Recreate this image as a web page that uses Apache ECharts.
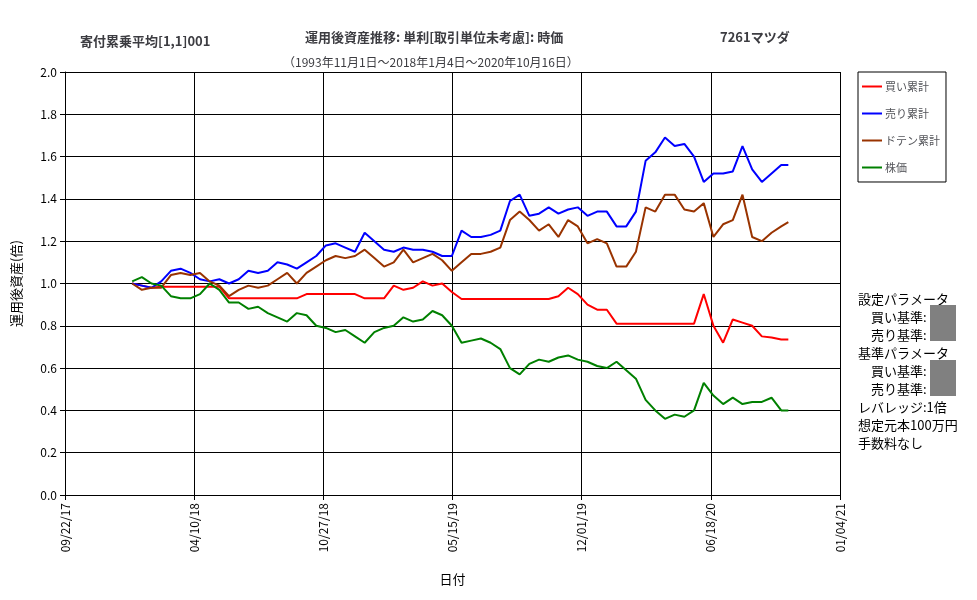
<!DOCTYPE html>
<html>
<head>
<meta charset="UTF-8">
<title>運用後資産推移</title>
<script src="https://cdn.jsdelivr.net/npm/echarts@6/dist/echarts.min.js"></script>
<style>body{margin:0;background:#fff}</style>
</head>
<body>
	<div id="main" style="width: 977px;height:600px;"></div>
	<script type="text/javascript">
	// x = days since 09/22/17 (axis origin); first sample 2018-01-04 = day 104, then every 15 days, last 2020-10-16
	var sampleDays = [];
	for (var i = 0; i < 68; i++) sampleDays.push(104 + i * 15);
	sampleDays.push(1120);

	var buyTotal = [1.0,0.99,0.98,0.985,0.985,0.985,0.985,0.985,0.985,0.985,
		0.93,0.93,0.93,0.93,0.93,0.93,0.93,0.93,0.95,0.95,0.95,0.95,0.95,0.95,
		0.93,0.93,0.93,0.99,0.97,0.98,1.01,0.99,1.0,0.96,
		0.927,0.927,0.927,0.927,0.927,0.927,0.927,0.927,0.927,0.927,
		0.94,0.98,0.95,0.9,0.876,0.876,
		0.81,0.81,0.81,0.81,0.81,0.81,0.81,0.81,0.81,
		0.95,0.80,0.72,0.83,0.815,0.8,0.75,0.745,0.735,0.735];
	var sellTotal = [1.0,0.99,0.98,1.01,1.06,1.07,1.05,1.02,1.01,1.02,1.00,1.02,1.06,1.05,1.06,1.10,1.09,
		1.07,1.10,1.13,1.18,1.19,1.17,1.15,1.24,1.20,1.16,1.15,1.17,1.16,1.16,1.15,1.13,1.13,
		1.25,1.22,1.22,1.23,1.25,1.39,1.42,1.32,1.33,1.36,1.33,1.35,1.36,1.32,1.34,1.34,1.27,
		1.27,1.34,1.58,1.62,1.69,1.65,1.66,1.60,1.48,1.52,1.52,1.53,1.65,1.54,1.48,1.52,1.56,1.56];
	var dotenTotal = [1.0,0.97,0.98,0.98,1.04,1.05,1.04,1.05,1.01,0.99,0.94,0.97,0.99,0.98,0.99,1.02,1.05,
		1.0,1.05,1.08,1.11,1.13,1.12,1.13,1.16,1.12,1.08,1.10,1.16,1.10,1.12,1.14,1.11,1.06,
		1.10,1.14,1.14,1.15,1.17,1.30,1.34,1.30,1.25,1.28,1.22,1.30,1.27,1.19,1.21,1.19,1.08,
		1.08,1.15,1.36,1.34,1.42,1.42,1.35,1.34,1.38,1.22,1.28,1.30,1.42,1.22,1.20,1.24,1.27,1.29];
	var stockPrice = [1.01,1.03,1.0,0.99,0.94,0.93,0.93,0.95,1.0,0.97,0.91,0.91,0.88,0.89,0.86,0.84,0.82,
		0.86,0.85,0.80,0.79,0.77,0.78,0.75,0.72,0.77,0.79,0.80,0.84,0.82,0.83,0.87,0.85,0.80,
		0.72,0.73,0.74,0.72,0.69,0.60,0.57,0.62,0.64,0.63,0.65,0.66,0.64,0.63,0.61,0.60,0.63,
		0.59,0.55,0.45,0.40,0.36,0.38,0.37,0.40,0.53,0.47,0.43,0.46,0.43,0.44,0.44,0.46,0.40,0.40];

	function pairs(vals) {
		return vals.map(function (v, k) { return [sampleDays[k], v]; });
	}
	var origin = Date.UTC(2017, 8, 22);
	function dateLabel(d) {
		var t = new Date(origin + d * 86400000);
		var mm = ('0' + (t.getUTCMonth() + 1)).slice(-2);
		var dd = ('0' + t.getUTCDate()).slice(-2);
		var yy = ('0' + (t.getUTCFullYear() % 100)).slice(-2);
		return mm + '/' + dd + '/' + yy;
	}

	var chartDom = document.getElementById('main');
	var myChart = echarts.init(chartDom);
	var font = 'Noto Sans CJK JP';
	var line = function (name, color, vals) {
		return { name: name, type: 'line', data: pairs(vals), showSymbol: false,
			lineStyle: { color: color, width: 2 }, itemStyle: { color: color }, animation: false };
	};
	myChart.setOption({
		textStyle: { fontFamily: font, color: '#000' },
		title: [
			{ text: '寄付累乗平均[1,1]001', left: 75, top: 30, textStyle: { fontSize: 13, fontWeight: 'bold', fontFamily: font } },
			{ text: '運用後資産推移: 単利[取引単位未考慮]: 時価', left: 300, top: 26, textStyle: { fontSize: 13, fontWeight: 'bold', fontFamily: font } },
			{ text: '7261マツダ', left: 715, top: 26, textStyle: { fontSize: 13, fontWeight: 'bold', fontFamily: font } },
			{ text: '（1993年11月1日～2018年1月4日～2020年10月16日）', left: 278, top: 51, textStyle: { fontSize: 12, fontWeight: 'normal', fontFamily: font } }
		],
		legend: {
			orient: 'vertical', left: 858, top: 72,
			padding: [9, 6, 9, 4], itemGap: 16, itemWidth: 20, itemHeight: 2,
			borderColor: '#000', borderWidth: 1, borderRadius: 0,
			icon: 'rect', textStyle: { fontSize: 11, fontFamily: font, padding: [0, 0, 0, -2] },
			data: ['買い累計', '売り累計', 'ドテン累計', '株価']
		},
		grid: { left: 65, right: 137, top: 72, bottom: 105 },
		xAxis: {
			type: 'value', min: 0, max: 1200, interval: 200,
			name: '日付', nameLocation: 'middle', nameGap: 78, nameTextStyle: { fontSize: 13 },
			axisLine: { lineStyle: { color: '#000' } },
			axisTick: { show: true, lineStyle: { color: '#000' } },
			splitLine: { show: true, lineStyle: { color: '#000', width: 1 } },
			axisLabel: { rotate: 90, fontSize: 12, color: '#000', formatter: dateLabel }
		},
		yAxis: {
			type: 'value', min: 0, max: 2, interval: 0.2,
			name: '運用後資産(倍)', nameLocation: 'middle', nameGap: 42, nameRotate: 90, nameTextStyle: { fontSize: 13 },
			axisLine: { show: true, lineStyle: { color: '#000' } },
			axisTick: { show: true, lineStyle: { color: '#000' } },
			splitLine: { show: true, lineStyle: { color: '#000', width: 1 } },
			axisLabel: { fontSize: 12, color: '#000', formatter: function (v) { return v.toFixed(1); } }
		},
		graphic: [
			{ type: 'text', left: 858, top: 290, style: { text: '設定パラメータ\n　買い基準:\n　売り基準:\n基準パラメータ\n　買い基準:\n　売り基準:\nレバレッジ:1倍\n想定元本100万円\n手数料なし',
				font: '13px "Noto Sans CJK JP"', fill: '#000', lineHeight: 18 } },
			{ type: 'rect', shape: { x: 930, y: 305, width: 26, height: 36 }, style: { fill: '#808080' } },
			{ type: 'rect', shape: { x: 930, y: 360, width: 26, height: 36 }, style: { fill: '#808080' } }
		],
		series: [
			line('買い累計', '#ff0000', buyTotal),
			line('売り累計', '#0000ff', sellTotal),
			line('ドテン累計', '#993300', dotenTotal),
			line('株価', '#008000', stockPrice)
		]
	});
	</script>
</body>
</html>
